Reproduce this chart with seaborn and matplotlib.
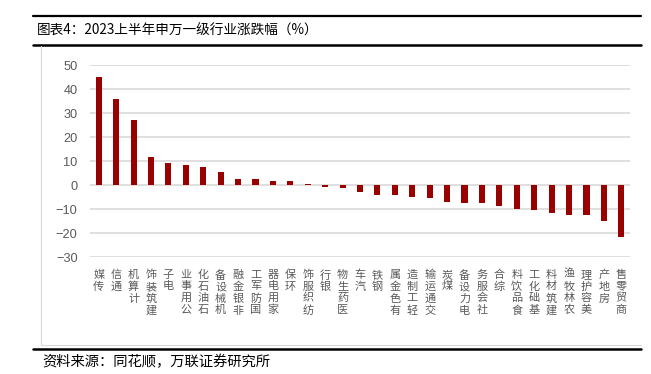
import matplotlib
matplotlib.use("Agg")
import matplotlib.pyplot as plt
import seaborn as sns
import pandas as pd
from matplotlib.lines import Line2D

categories = ["传媒", "通信", "计算机", "建筑装饰", "电子", "公用事业", "石油石化", "机械设备",
              "非银金融", "国防军工", "家用电器", "环保", "纺织服饰", "银行", "医药生物", "汽车",
              "钢铁", "有色金属", "轻工制造", "交通运输", "煤炭", "电力设备", "社会服务", "综合",
              "食品饮料", "基础化工", "建筑材料", "农林牧渔", "美容护理", "房地产", "商贸零售"]
values = [44.8, 35.8, 27.2, 11.7, 9.2, 8.2, 7.5, 5.6,
          2.5, 2.5, 1.8, 1.7, 0.4, -0.7, -1.1, -2.9,
          -3.9, -4.2, -5.0, -5.3, -6.8, -7.3, -7.5, -8.6,
          -9.7, -10.5, -11.5, -12.3, -12.6, -15.0, -21.5]
yticks = [-30, -20, -10, 0, 10, 20, 30, 40, 50]
title = "图表4：2023上半年申万一级行业涨跌幅（%）"
source = "资料来源：同花顺，万联证券研究所"

sns.set_style("white")
plt.rcParams['font.family'] = ['Noto Sans CJK SC', 'DejaVu Sans']
plt.rcParams['axes.unicode_minus'] = True

W, H = 651, 374
fig = plt.figure(figsize=(W / 100, H / 100), dpi=100)
ax = fig.add_axes([90 / W, 1 - 257.3 / H, 540 / W, (257.3 - 65) / H])

df = pd.DataFrame({"cat": categories, "val": values})
sns.barplot(data=df, x="cat", y="val", color="#990000", width=0.35, ax=ax,
            saturation=1, edgecolor="none")

ax.set_ylim(-30, 50)
ax.set_xlim(-0.5, len(categories) - 0.5)
ax.set_yticks(yticks)
ax.set_yticklabels([("\u2212" + str(-t)) if t < 0 else str(t) for t in yticks],
                   fontfamily="Liberation Sans", fontsize=9.2, color="#595959")
ax.set_xticks(range(len(categories)))
# labels read bottom-to-top (rotated text with upright glyphs), top-aligned
ax.set_xticklabels(["\n".join(reversed(c)) for c in categories], fontsize=8,
                   color="#595959", linespacing=1.2, va="top")
ax.tick_params(axis="both", length=0)
ax.tick_params(axis="x", pad=9)
ax.tick_params(axis="y", pad=9)
ax.set_xlabel("")
ax.set_ylabel("")
for s in ax.spines.values():
    s.set_visible(False)
ax.yaxis.grid(True, color="#D9D9D9", lw=1.2)
ax.set_axisbelow(True)

def fx(x):
    return x / W

def fy(y):
    return 1 - y / H

# title rules
fig.add_artist(Line2D([fx(33), fx(641)], [fy(16), fy(16)], color="black", lw=1.6))
fig.add_artist(Line2D([fx(33), fx(641)], [fy(45), fy(45)], color="black", lw=1.8))
fig.add_artist(Line2D([fx(33), fx(641)], [fy(349), fy(349)], color="black", lw=1.8))
# frame
fig.add_artist(Line2D([fx(41), fx(41)], [fy(46), fy(345)], color="#D9D9D9", lw=0.8))
fig.add_artist(Line2D([fx(41), fx(641)], [fy(345), fy(345)], color="#D9D9D9", lw=0.8))

fig.text(fx(37), fy(30.5), title, fontsize=9.8, color="black", va="center", ha="left")
fig.text(fx(42), fy(362), source, fontsize=10.3, color="black", va="center", ha="left")

fig.savefig("out.png", dpi=100)
